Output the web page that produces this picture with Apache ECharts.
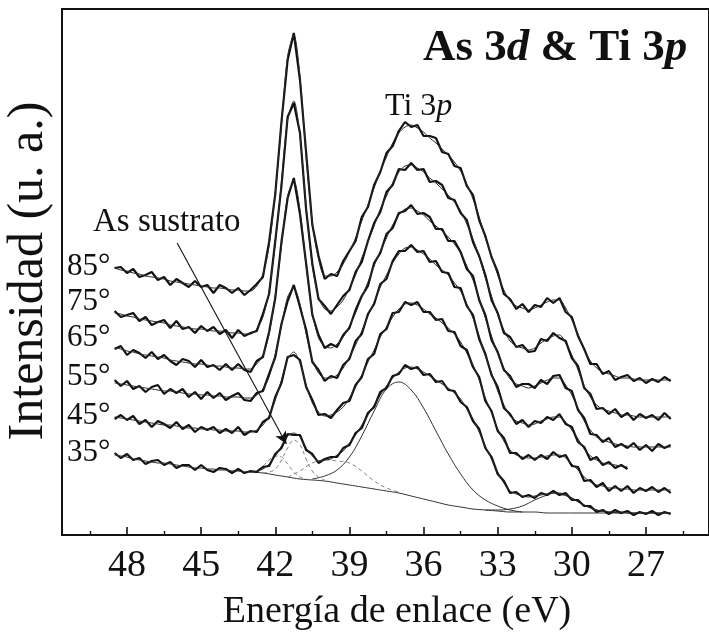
<!DOCTYPE html>
<html>
<head>
<meta charset="utf-8">
<script src="https://cdn.jsdelivr.net/npm/echarts@6/dist/echarts.min.js"></script>
<style>
  html, body { margin: 0; padding: 0; background: #fff; }
  #chart { width: 709px; height: 642px; }
</style>
</head>
<body>
<div id="chart"></div>
<script>
// Binding energy grid (eV), shared by every spectrum
const energy = [48.5,48.25,48,47.75,47.5,47.25,47,46.75,46.5,46.25,46,45.75,45.5,45.25,45,44.75,44.5,44.25,44,43.75,43.5,43.25,43,42.75,42.5,42.25,42,41.75,41.5,41.25,41,40.75,40.5,40.25,40,39.75,39.5,39.25,39,38.75,38.5,38.25,38,37.75,37.5,37.25,37,36.75,36.5,36.25,36,35.75,35.5,35.25,35,34.75,34.5,34.25,34,33.75,33.5,33.25,33,32.75,32.5,32.25,32,31.75,31.5,31.25,31,30.75,30.5,30.25,30,29.75,29.5,29.25,29,28.75,28.5,28.25,28,27.75,27.5,27.25,27,26.75,26.5,26.25,26];

// Measured spectra (stacked, arbitrary units) and their fitted envelopes
const raw85 = [269,270,264,268,260,262,265,257,260,252,258,254,250,256,250,252,244,252,249,244,249,242,247,253,260,295,343,415,477,504,457,384,312,281,258,263,261,276,286,296,320,330,352,365,384,391,406,415,410,412,401,401,399,385,383,371,369,351,342,317,301,280,265,243,238,228,233,225,232,230,239,234,239,225,220,201,188,173,173,163,166,157,160,162,156,159,154,158,155,160,156];
const fit85 = [269,267,266,264,263,261,260,259,258,256,255,254,253,252,251,250,249,249,248,247,247,246,246,251,263,291,345,412,481,502,460,380,314,278,261,261,265,273,285,299,316,332,349,366,380,394,404,410,412,409,405,399,394,388,382,375,366,353,338,320,299,281,262,247,236,231,229,227,229,232,235,237,237,229,217,203,187,176,169,165,163,161,159,159,158,157,157,157,157,157,157];

const raw75 = [226,220,222,224,216,220,212,215,217,209,216,208,210,204,211,206,210,203,207,199,207,201,204,206,223,243,296,351,420,434,404,327,273,238,231,223,232,241,247,265,275,296,314,325,345,352,368,367,374,367,368,355,356,352,339,337,324,317,295,281,262,237,224,204,200,190,192,185,186,198,196,204,199,196,179,171,149,143,128,129,123,128,120,124,117,123,119,122,117,124,118];
const fit75 = [224,223,221,220,218,217,216,215,214,212,211,210,209,208,208,207,206,206,205,204,204,203,203,208,220,246,294,355,417,436,400,330,271,240,228,226,230,237,249,262,279,295,311,328,341,354,365,371,372,369,365,359,354,348,342,335,326,313,298,280,259,241,222,207,196,191,189,187,189,194,198,201,202,194,182,167,151,140,132,128,126,124,122,122,121,120,120,120,120,120,120];

const raw65 = [188,191,182,187,184,179,185,178,182,176,172,178,176,170,177,170,172,167,173,167,173,167,165,176,180,205,239,295,339,359,323,273,222,202,189,193,190,202,209,227,241,251,274,284,303,309,324,326,332,323,324,320,308,308,296,296,285,268,261,237,222,197,185,167,161,150,153,153,149,157,153,161,162,149,146,127,119,103,102,95,99,90,93,89,94,87,92,86,93,89,92];
const fit65 = [189,188,186,185,183,182,181,180,179,177,176,175,174,173,173,172,171,171,170,169,169,168,168,173,182,203,242,291,341,356,327,271,225,199,191,189,193,200,211,224,240,255,271,286,299,312,322,328,329,326,322,316,311,306,300,293,284,271,257,239,219,201,183,169,158,153,151,149,151,154,157,159,159,152,142,129,116,107,100,97,95,93,92,91,90,90,90,90,90,90,90];

// the 55° scan stops at 27.75 eV
const raw55 = [157,151,156,148,151,145,150,152,143,148,144,148,140,145,138,145,139,144,137,141,144,137,136,144,146,163,180,213,236,252,230,207,175,167,156,161,159,172,178,196,203,223,233,253,258,276,286,286,292,285,286,275,276,265,264,250,249,231,222,198,183,162,150,129,123,113,117,110,116,114,120,117,123,113,110,95,90,77,80,72,75,69,72,68];
const fit55 = [154,153,152,151,150,149,148,147,146,146,145,144,143,143,142,142,141,141,140,140,140,139,139,142,148,160,183,211,240,249,233,203,177,164,159,159,162,169,180,192,206,221,235,250,262,274,283,289,290,287,283,278,272,267,262,254,246,233,219,201,181,164,146,132,121,116,114,112,113,116,118,120,120,115,107,98,88,81,77,74,73,72,71,70];

const raw45 = [118,122,117,121,113,117,110,116,113,109,115,108,112,105,110,107,110,104,108,104,110,102,106,105,115,119,140,154,180,182,177,150,137,122,123,119,127,134,136,152,160,178,183,203,208,224,225,235,232,235,225,225,217,218,206,205,191,187,170,160,136,126,106,99,84,84,78,82,77,82,78,85,80,82,71,70,56,57,50,54,46,51,46,51,44,49,46,50,45,49,44];
const fit45 = [120,119,118,117,116,115,114,113,112,112,111,110,109,109,108,108,107,107,106,106,106,105,105,107,112,121,137,157,178,185,174,152,134,125,121,122,125,130,139,150,162,175,187,200,210,220,228,233,234,232,228,223,219,214,209,203,195,184,172,157,139,124,108,96,87,82,80,79,79,80,81,82,82,79,73,67,60,55,52,51,49,49,48,48,47,47,47,47,47,47,47];

const raw35 = [84,79,83,77,79,73,76,77,72,75,69,72,72,67,72,67,65,69,68,64,68,64,66,65,70,71,83,89,103,102,102,87,83,74,78,80,80,89,92,104,109,124,130,145,149,161,163,172,168,170,162,163,155,156,147,146,135,130,116,108,89,80,63,56,44,45,40,42,39,44,42,46,42,44,37,37,31,31,25,27,23,27,24,26,22,25,23,26,22,25,23];
const fit35 = [82,81,80,78,77,76,75,74,74,73,72,71,70,69,69,68,68,67,67,66,66,65,65,66,68,73,81,91,101,104,100,89,81,76,77,78,82,86,94,102,112,122,132,142,151,159,165,169,170,168,165,161,157,153,149,144,138,128,118,105,91,78,65,54,46,43,41,40,41,42,43,44,44,42,39,35,32,29,27,26,25,25,25,24,24,24,24,24,24,24,24];

// Peak decomposition of the 35° spectrum
const bkgEnergy = [43,42.5,42,41.5,41,40.5,40,39.5,39,38.5,38,37.5,37,36.5,36,35.5,35,34.5,34,33.5,33,32.5,32,31.5,31,30.5,30,29,28,27,26];
const bkg35 = [65,64,62,60,58,57,56,54,52,50,48,46,44,41,38,35,32,30,28,27,26,25,25,25,24,24,24,24,24,24,24];
const tiEnergy = [40.5,40,39.5,39,38.5,38,37.5,37,36.5,36,35.5,35,34.5,34,33.5,33,32.5,32];
const ti35 = [58,61,67,80,101,126,148,155,147,129,106,83,63,47,37,31,27,25];
const p30Energy = [33.5,33,32.5,32,31.5,31,30.75,30.5,30,29.5,29,28.5,28];
const p30_35 = [27,27,28,31,37,42,44,43,39,32,27,25,24];
const as1Energy = [42.5,42.25,42,41.75,41.5,41.25,41,40.75,40.5,40.25,40];
const as1_35 = [64,65,68,77,89,97,92,78,66,60,57];
const as2Energy = [43,42.75,42.5,42.25,42,41.75,41.5,41.25,41,40.75,40.5];
const as2_35 = [65,67,71,77,81,80,73,65,60,58,57];
const broadEnergy = [41.5,41,40.5,40,39.5,39,38.5,38,37.5,37];
const broad35 = [60,66,74,77,76,74,66,56,49,45];

// Axis ticks
const majorTicks = [48,45,42,39,36,33,30,27];
const minorTicks = [49.5,46.5,43.5,40.5,37.5,34.5,31.5,28.5,25.5];

// Take-off angles, top to bottom
const angles = ['85°','75°','65°','55°','45°','35°'];
const rawSets = [raw85, raw75, raw65, raw55, raw45, raw35];
const fitSets = [fit85, fit75, fit65, fit55, fit45, fit35];

// Arrow from the "As sustrato" note to the substrate peak
const arrowFrom = [45.97, 294];
const arrowTo = [41.55, 93];

const SERIF = '"Liberation Serif", "Times New Roman", Times, serif';
const INK = '#111';

function pairs(xs, ys) { return ys.map((v, i) => [xs[i], v]); }

const series = [];
rawSets.forEach((r, k) => {
  series.push({
    name: 'raw ' + angles[k], type: 'line', data: pairs(energy, r),
    showSymbol: false, symbol: 'none', z: 3,
    lineStyle: { color: INK, width: 2.2 }
  });
  series.push({
    name: 'fit ' + angles[k], type: 'line', data: pairs(energy, fitSets[k]),
    showSymbol: false, symbol: 'none', smooth: 0.3, z: 4,
    lineStyle: { color: '#2a2a2a', width: 1 }
  });
});

function component(name, xs, ys, dashed) {
  return {
    name: name, type: 'line', data: pairs(xs, ys), showSymbol: false, symbol: 'none',
    smooth: 0.4, z: 2,
    lineStyle: { color: dashed ? '#777' : '#333', width: dashed ? 0.9 : 1, type: dashed ? [4, 3] : 'solid' }
  };
}
const bkgSeries = component('background', bkgEnergy, bkg35, false);
bkgSeries.markLine = {
  silent: true, symbol: ['none', 'arrow'], symbolSize: [9, 12],
  lineStyle: { color: INK, width: 1.1, type: 'solid' },
  label: { show: false },
  data: [[{ coord: arrowFrom }, { coord: arrowTo }]]
};
series.push(bkgSeries);
series.push(component('Ti 3p', tiEnergy, ti35, false));
series.push(component('30 eV', p30Energy, p30_35, false));
series.push(component('As 3d5/2', as1Energy, as1_35, true));
series.push(component('As 3d3/2', as2Energy, as2_35, true));
series.push(component('As-Ti', broadEnergy, broad35, true));

const angleY = [267, 302, 338, 377, 416, 453];
const graphic = angles.map((a, k) => ({
  type: 'text', x: 67, y: angleY[k],
  style: { text: a, font: '31px ' + SERIF, fill: INK, align: 'left', verticalAlign: 'middle' }
}));
graphic.push({
  type: 'text', x: 423, y: 48,
  style: {
    text: '{b|As 3}{i|d}{b| & Ti 3}{i|p}', align: 'left', verticalAlign: 'middle',
    rich: {
      b: { fontSize: 45, fontWeight: 'bold', fontFamily: SERIF, fill: INK },
      i: { fontSize: 45, fontWeight: 'bold', fontStyle: 'italic', fontFamily: SERIF, fill: INK }
    }
  }
});
graphic.push({
  type: 'text', x: 385, y: 107,
  style: {
    text: '{n|Ti 3}{i|p}', align: 'left', verticalAlign: 'middle',
    rich: {
      n: { fontSize: 32, fontFamily: SERIF, fill: INK },
      i: { fontSize: 32, fontStyle: 'italic', fontFamily: SERIF, fill: INK }
    }
  }
});
graphic.push({
  type: 'text', x: 93, y: 222,
  style: { text: 'As sustrato', font: '33px ' + SERIF, fill: INK, align: 'left', verticalAlign: 'middle' }
});
graphic.push({
  type: 'text', x: 397, y: 612,
  style: { text: 'Energía de enlace (eV)', font: '38px ' + SERIF, fill: INK, align: 'center', verticalAlign: 'middle' }
});
graphic.push({
  type: 'text', x: 29, y: 271, rotation: Math.PI / 2,
  style: { text: 'Intensidad (u. a.)', font: '50px ' + SERIF, fill: INK, align: 'center', verticalAlign: 'middle' }
});

const chart = echarts.init(document.getElementById('chart'), null, { renderer: 'canvas' });
chart.setOption({
  animation: false,
  backgroundColor: '#fff',
  grid: { left: 62, right: -5, top: 9, bottom: 107, show: true, borderColor: INK, borderWidth: 2, backgroundColor: 'transparent' },
  xAxis: [
    {
      type: 'value', inverse: true, min: 24.45, max: 50.63, position: 'bottom',
      axisLine: { show: true, lineStyle: { color: INK, width: 2 } },
      axisTick: { show: true, inside: true, length: 8, customValues: majorTicks, lineStyle: { color: INK, width: 1.6 } },
      axisLabel: { show: true, customValues: majorTicks, fontSize: 38, fontFamily: SERIF, color: INK, margin: 12 },
      splitLine: { show: false }
    },
    {
      type: 'value', inverse: true, min: 24.45, max: 50.63, position: 'bottom',
      axisLine: { show: false },
      axisTick: { show: true, inside: true, length: 4, customValues: minorTicks, lineStyle: { color: INK, width: 1.4 } },
      axisLabel: { show: false },
      splitLine: { show: false }
    }
  ],
  yAxis: {
    type: 'value', min: 2, max: 528,
    axisLine: { show: true, lineStyle: { color: INK, width: 2 } },
    axisTick: { show: false }, axisLabel: { show: false }, splitLine: { show: false }
  },
  graphic: graphic,
  series: series
});
</script>
</body>
</html>
